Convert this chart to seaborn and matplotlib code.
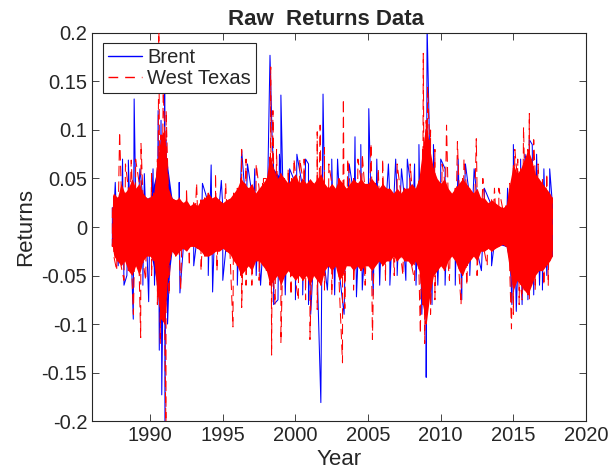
import numpy as np
import pandas as pd
import seaborn as sns
import matplotlib.pyplot as plt
from matplotlib.lines import Line2D

# quarterly grid of the dense West Texas core
wti_years = [1987.4] + [1987.5 + 0.25 * i for i in range(121)] + [2017.68]
wti_hi = [0.020,
          0.035, 0.030, 0.045, 0.035, 0.040, 0.050, 0.040, 0.045, 0.035, 0.030,
          0.030, 0.035, 0.070, 0.095, 0.100, 0.040, 0.030, 0.028, 0.030, 0.025,
          0.028, 0.022, 0.025, 0.022, 0.028, 0.030, 0.035, 0.030, 0.032, 0.028,
          0.025, 0.028, 0.030, 0.035, 0.040, 0.050, 0.045, 0.040, 0.045, 0.035,
          0.040, 0.045, 0.050, 0.075, 0.060, 0.050, 0.055, 0.050, 0.045, 0.050,
          0.055, 0.045, 0.050, 0.045, 0.050, 0.045, 0.050, 0.055, 0.045, 0.040,
          0.045, 0.040, 0.050, 0.045, 0.040, 0.045, 0.050, 0.045, 0.050, 0.045,
          0.045, 0.050, 0.045, 0.040, 0.045, 0.040, 0.040, 0.035, 0.040, 0.035,
          0.040, 0.040, 0.045, 0.040, 0.050, 0.080, 0.110, 0.080, 0.060, 0.050,
          0.045, 0.050, 0.040, 0.035, 0.040, 0.045, 0.050, 0.045, 0.040, 0.035,
          0.040, 0.030, 0.030, 0.025, 0.028, 0.025, 0.022, 0.020, 0.022, 0.045,
          0.065, 0.055, 0.060, 0.070, 0.080, 0.070, 0.055, 0.050, 0.045, 0.040,
          0.035, 0.030]
wti_lo = [-0.020,
          -0.030, -0.035, -0.040, -0.035, -0.045, -0.050, -0.040, -0.050, -0.035, -0.030,
          -0.030, -0.035, -0.070, -0.095, -0.100, -0.040, -0.025, -0.030, -0.025, -0.022,
          -0.025, -0.020, -0.020, -0.022, -0.025, -0.030, -0.030, -0.028, -0.025, -0.025,
          -0.022, -0.025, -0.028, -0.035, -0.040, -0.050, -0.045, -0.040, -0.045, -0.035,
          -0.035, -0.040, -0.045, -0.060, -0.055, -0.050, -0.060, -0.050, -0.045, -0.050,
          -0.055, -0.050, -0.055, -0.050, -0.060, -0.050, -0.055, -0.060, -0.045, -0.040,
          -0.045, -0.040, -0.055, -0.050, -0.040, -0.040, -0.045, -0.040, -0.045, -0.040,
          -0.040, -0.045, -0.040, -0.035, -0.040, -0.035, -0.035, -0.030, -0.035, -0.030,
          -0.035, -0.035, -0.040, -0.035, -0.045, -0.080, -0.100, -0.070, -0.050, -0.045,
          -0.040, -0.045, -0.035, -0.030, -0.035, -0.045, -0.050, -0.040, -0.035, -0.030,
          -0.035, -0.025, -0.025, -0.022, -0.025, -0.022, -0.020, -0.018, -0.020, -0.045,
          -0.065, -0.055, -0.060, -0.065, -0.070, -0.060, -0.050, -0.045, -0.045, -0.040,
          -0.035, -0.030]

# half-year grid of the Brent core
brent_years = [1987.4] + [1988.0 + 0.5 * i for i in range(60)] + [2017.68]
brent_hi = [0.020, 0.035, 0.030, 0.035, 0.030, 0.030, 0.060, 0.085, 0.030, 0.025,
            0.022, 0.020, 0.022, 0.025, 0.025, 0.020, 0.022, 0.030, 0.040, 0.035,
            0.030, 0.035, 0.060, 0.050, 0.040, 0.045, 0.040, 0.040, 0.040, 0.038,
            0.035, 0.040, 0.035, 0.035, 0.038, 0.035, 0.035, 0.035, 0.030, 0.030,
            0.030, 0.035, 0.040, 0.100, 0.050, 0.035, 0.030, 0.035, 0.035, 0.030,
            0.030, 0.025, 0.022, 0.020, 0.020, 0.050, 0.045, 0.060, 0.050, 0.035,
            0.025, 0.025]
brent_lo = [-0.020, -0.030, -0.035, -0.035, -0.030, -0.025, -0.060, -0.090, -0.025, -0.022,
            -0.020, -0.018, -0.020, -0.025, -0.022, -0.020, -0.022, -0.030, -0.040, -0.035,
            -0.030, -0.035, -0.050, -0.045, -0.040, -0.045, -0.045, -0.050, -0.045, -0.040,
            -0.035, -0.045, -0.035, -0.030, -0.035, -0.035, -0.035, -0.035, -0.030, -0.030,
            -0.030, -0.030, -0.035, -0.090, -0.040, -0.030, -0.025, -0.030, -0.035, -0.025,
            -0.025, -0.020, -0.020, -0.018, -0.020, -0.055, -0.045, -0.055, -0.040, -0.035,
            -0.030, -0.030]

# isolated large moves (year, return)
brent_spike_years = [1987.6, 1988.1, 1988.5, 1988.9, 1989.3, 1989.6, 1990.2, 1990.55,
                     1990.75, 1991.0, 1991.1, 1992.0, 1993.6, 1994.2, 1994.9, 1996.3,
                     1996.7, 1997.2, 1998.25, 1998.4, 1998.9, 1999.0, 1999.6, 2000.1,
                     2000.7, 2000.9, 2001.9, 2002.5, 2002.9, 2003.7, 2004.1, 2004.5,
                     2005.05, 2005.6, 2006.4, 2006.9, 2007.3, 2007.7, 2008.2, 2008.5,
                     2009.06, 2009.2, 2009.5, 2010.0, 2010.3, 2011.2, 2011.7, 2012.3,
                     2013.0, 2014.6, 2015.0, 2015.5, 2015.8, 2016.1, 2016.3, 2016.6,
                     2017.1, 2017.5,
                     1987.8, 1988.2, 1988.4, 1988.84, 1989.5, 1989.9, 1990.3, 1990.63,
                     1990.8, 1991.02, 1991.2, 1992.05, 1993.0, 1994.0, 1994.3, 1995.0,
                     1996.0, 1997.3, 1997.6, 1998.5, 1998.8, 1999.3, 2000.0, 2000.5,
                     2000.9, 2001.05, 2001.75, 2002.2, 2002.7, 2003.35, 2004.2, 2004.6,
                     2005.35, 2005.8, 2006.5, 2007.0, 2007.6, 2008.3, 2008.7, 2009.0,
                     2009.4, 2009.8, 2010.3, 2011.0, 2011.45, 2012.0, 2012.8, 2013.5,
                     2014.9, 2015.2, 2015.6, 2016.0, 2016.4, 2016.8, 2017.0, 2017.3]
brent_spike_vals = [0.046, 0.070, 0.069, 0.132, 0.060, 0.055, 0.060, 0.120,
                    0.110, 0.140, 0.090, 0.046, 0.045, 0.064, 0.048, 0.079,
                    0.065, 0.060, 0.177, 0.090, 0.075, 0.136, 0.060, 0.075,
                    0.070, 0.065, 0.137, 0.070, 0.070, 0.065, 0.093, 0.085,
                    0.122, 0.070, 0.065, 0.070, 0.060, 0.070, 0.065, 0.085,
                    0.210, 0.108, 0.085, 0.070, 0.060, 0.070, 0.065, 0.060,
                    0.040, 0.040, 0.085, 0.070, 0.075, 0.090, 0.085, 0.075,
                    0.060, 0.060,
                    -0.040, -0.060, -0.050, -0.095, -0.060, -0.077, -0.060, -0.127,
                    -0.173, -0.210, -0.100, -0.068, -0.040, -0.050, -0.067, -0.055,
                    -0.060, -0.050, -0.060, -0.080, -0.075, -0.070, -0.075, -0.070,
                    -0.080, -0.090, -0.181, -0.065, -0.070, -0.090, -0.072, -0.065,
                    -0.070, -0.060, -0.060, -0.050, -0.055, -0.060, -0.090, -0.155,
                    -0.080, -0.060, -0.060, -0.060, -0.075, -0.050, -0.045, -0.040,
                    -0.080, -0.087, -0.080, -0.075, -0.070, -0.060, -0.065, -0.050]

wti_spike_years = [1987.9, 1988.3, 1988.7, 1989.0, 1989.37, 1990.1, 1990.6, 1990.9,
                   1991.1, 1992.5, 1993.2, 1994.5, 1995.2, 1996.3, 1996.6, 1997.3,
                   1997.8, 1998.3, 1998.45, 1998.7, 1999.5, 1999.9, 2000.3, 2000.6,
                   2001.5, 2001.7, 2002.0, 2002.3, 2003.3, 2003.6, 2004.3, 2004.6,
                   2005.2, 2005.7, 2006.0, 2007.0, 2007.9, 2008.8, 2009.1, 2009.3,
                   2009.6, 2010.1, 2010.4, 2011.15, 2011.6, 2012.45, 2012.9, 2013.7,
                   2014.0, 2015.1, 2015.3, 2015.7, 2016.1, 2016.4, 2016.7, 2017.0,
                   2017.3,
                   1987.7, 1988.2, 1988.85, 1989.35, 1989.7, 1990.1, 1990.5, 1990.7,
                   1991.09, 1991.3, 1992.1, 1992.7, 1993.5, 1994.6, 1995.7, 1996.3,
                   1996.6, 1997.0, 1997.5, 1998.36, 1998.6, 1999.0, 1999.7, 2000.2,
                   2000.7, 2001.0, 2001.5, 2002.0, 2002.5, 2003.24, 2003.4, 2004.0,
                   2004.8, 2005.3, 2006.2, 2006.8, 2007.4, 2008.2, 2008.6, 2008.9,
                   2009.3, 2009.6, 2010.6, 2011.4, 2011.8, 2012.5, 2013.2, 2014.87,
                   2015.0, 2015.4, 2015.6, 2016.1, 2016.5, 2017.1, 2017.4]
wti_spike_vals = [0.098, 0.065, 0.069, 0.070, 0.086, 0.055, 0.210, 0.140,
                  0.120, 0.040, 0.045, 0.055, 0.045, 0.080, 0.070, 0.065,
                  0.050, 0.165, 0.120, 0.080, 0.060, 0.070, 0.070, 0.070,
                  0.098, 0.105, 0.082, 0.065, 0.132, 0.070, 0.070, 0.075,
                  0.086, 0.060, 0.070, 0.065, 0.065, 0.179, 0.144, 0.100,
                  0.080, 0.065, 0.105, 0.088, 0.070, 0.091, 0.050, 0.040,
                  0.040, 0.080, 0.070, 0.103, 0.117, 0.090, 0.065, 0.050,
                  0.055,
                  -0.045, -0.055, -0.090, -0.114, -0.055, -0.050, -0.080, -0.120,
                  -0.210, -0.070, -0.065, -0.040, -0.045, -0.045, -0.103, -0.083,
                  -0.060, -0.060, -0.055, -0.132, -0.080, -0.119, -0.070, -0.075,
                  -0.075, -0.116, -0.085, -0.065, -0.070, -0.140, -0.084, -0.065,
                  -0.060, -0.116, -0.055, -0.050, -0.050, -0.055, -0.110, -0.120,
                  -0.090, -0.075, -0.055, -0.080, -0.060, -0.050, -0.040, -0.105,
                  -0.090, -0.080, -0.075, -0.075, -0.065, -0.060, -0.060]


def build_series(name, years, hi, lo, spike_years, spike_vals):
    band = pd.DataFrame({"Year": np.repeat(years, 2),
                         "Returns": np.column_stack([hi, lo]).ravel()})
    spikes = pd.DataFrame({"Year": spike_years, "Returns": spike_vals})
    df = pd.concat([band, spikes]).sort_values("Year", kind="stable")
    df["Series"] = name
    return df


data = pd.concat([build_series("Brent", brent_years, brent_hi, brent_lo,
                               brent_spike_years, brent_spike_vals),
                  build_series("West Texas", wti_years, wti_hi, wti_lo,
                               wti_spike_years, wti_spike_vals)])

colors = {"Brent": "blue", "West Texas": "red"}

sns.set_style("ticks")
plt.rcParams["font.family"] = ["Liberation Sans", "DejaVu Sans"]
plt.rcParams["xtick.direction"] = "in"
plt.rcParams["ytick.direction"] = "in"

fig = plt.figure(figsize=(6.11, 4.76), dpi=100)
ax = fig.add_axes([0.1506, 0.1155, 0.8085, 0.8152])

ax.fill_between(brent_years, brent_lo, brent_hi, color="blue", lw=0, zorder=1)
ax.fill_between(wti_years, wti_lo, wti_hi, color="red", lw=0, zorder=3)

sns.lineplot(data=data, x="Year", y="Returns", hue="Series", style="Series",
             palette=colors, dashes={"Brent": "", "West Texas": (10, 5)},
             estimator=None, sort=False, lw=0.75, ax=ax, legend=False)
ax.lines[0].set_zorder(2)
ax.lines[1].set_zorder(4)

handles = [Line2D([], [], color="blue", lw=1.0),
           Line2D([], [], color="red", lw=1.0, dashes=(7, 5))]
leg = ax.legend(handles, ["Brent", "West Texas"],
                loc="upper left", bbox_to_anchor=(0.022, 0.974),
                borderaxespad=0, fontsize=14.5, handlelength=1.7, handletextpad=0.25,
                labelspacing=0.1, borderpad=0.25, fancybox=False, framealpha=1,
                edgecolor="0.15")
leg.get_frame().set_linewidth(0.8)
leg.set_zorder(10)

ax.set_xlim(1986, 2020)
ax.set_ylim(-0.2, 0.2)
ax.set_xticks([1990, 1995, 2000, 2005, 2010, 2015, 2020])
ax.set_yticks([-0.2, -0.15, -0.1, -0.05, 0, 0.05, 0.1, 0.15, 0.2])
ax.set_yticklabels(["-0.2", "-0.15", "-0.1", "-0.05", "0", "0.05", "0.1", "0.15", "0.2"])
ax.tick_params(labelsize=14.5, colors="0.15", length=5, width=0.6,
               top=True, right=True)
for s in ax.spines.values():
    s.set_color("0.15")
    s.set_linewidth(0.8)

ax.set_title("Raw  Returns Data", fontsize=16, fontweight="bold", pad=6, x=0.474)
plt.xlabel("Year", fontsize=16, color="0.15", labelpad=3)
plt.ylabel("Returns", fontsize=16, color="0.15", labelpad=4)
plt.savefig("out.png", dpi=100)
